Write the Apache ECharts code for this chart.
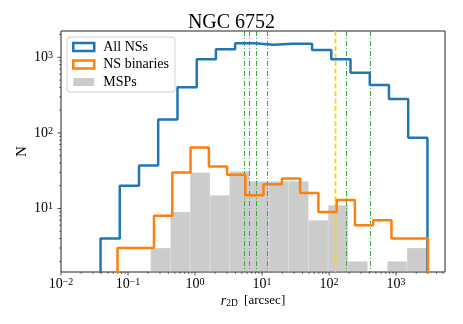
<!DOCTYPE html>
<html>
<head>
<meta charset="utf-8">
<script src="https://cdn.jsdelivr.net/npm/echarts@6/dist/echarts.min.js"></script>
<style>
  html, body { margin: 0; padding: 0; background: #fff; }
  #chart { width: 463px; height: 324px; }
</style>
</head>
<body>
<div id="chart"></div>
<script>
// bin edges (r_2D, arcsec) and counts
const allEdges = [0.0389, 0.0753, 0.146, 0.282, 0.547, 1.06, 2.05, 3.97, 7.69, 14.9, 28.8, 55.8, 108, 209, 405, 783, 1517, 2938]
const allCounts = [4, 20, 37, 151, 401, 941, 1276, 1531, 1470, 1515, 1515, 1250, 941, 625, 430, 280, 86]

const binEdges = [0.0697, 0.131, 0.244, 0.458, 0.857, 1.61, 3.01, 5.63, 10.5, 19.8, 37.0, 69.3, 130, 243, 455, 853, 1596, 2992]
const binCounts = [3, 3, 8, 30, 64, 36, 28, 15, 21, 25, 16, 9, 13, 6, 7, 4, 4]

const mspEdges = [0.218, 0.430, 0.845, 1.67, 3.28, 6.46, 12.7, 25.0, 49.3, 97.0, 191, 376, 740, 1456, 2871]
const mspCounts = [3, 9, 30, 15, 31, 23, 23, 23, 7, 11, 2, 0, 2, 3]

// vertical reference lines
const greenLines = [5.35, 6.33, 8.13, 12.0, 176, 402]
const yellowLines = [123]

const X_MIN = 0.01
const X_MAX = 5370
const Y_MIN = 1.445
const Y_MAX = 2230
const xMajor = [0.01, 0.1, 1, 10, 100, 1000]
const yMajor = [10, 100, 1000]

const SERIF = '"Liberation Serif", "DejaVu Serif", serif'

function stepPoints (edges, counts) {
  const pts = [[edges[0], 1]]
  for (let i = 0; i < counts.length; i++) {
    pts.push([edges[i], counts[i]])
    pts.push([edges[i + 1], counts[i]])
  }
  pts.push([edges[edges.length - 1], 1])
  return pts
}

function minorVals (lo, hi) {
  const out = []
  for (let d = -3; d <= 4; d++) {
    for (let k = 2; k <= 9; k++) {
      const v = k * Math.pow(10, d)
      if (v > lo && v < hi) out.push(v)
    }
  }
  return out
}

function powLabel (value) {
  const e = Math.log10(value)
  if (Math.abs(e - Math.round(e)) > 1e-6) return ''
  const n = Math.round(e)
  return '10{s|' + (n < 0 ? '\u2212' + (-n) : n) + '}'
}

const labelRich = {
  s: { fontSize: 10, fontFamily: SERIF, color: '#000', verticalAlign: 'top', lineHeight: 14 }
}

const chart = echarts.init(document.getElementById('chart'))

const xTicks = xMajor.map(v => [v, Y_MIN, 1]).concat(minorVals(X_MIN, X_MAX).map(v => [v, Y_MIN, 0]))
const yTicks = yMajor.map(v => [X_MIN, v, 1]).concat(minorVals(Y_MIN, Y_MAX).map(v => [X_MIN, v, 0]))

const option = {
  backgroundColor: '#fff',
  animation: false,
  title: {
    text: 'NGC 6752',
    left: 'center',
    top: 8,
    textStyle: { fontFamily: SERIF, fontSize: 20, fontWeight: 'normal', color: '#000' }
  },
  grid: {
    left: 61, right: 18, top: 31, bottom: 52,
    show: true, borderColor: '#222', borderWidth: 1, backgroundColor: 'transparent'
  },
  legend: {
    orient: 'vertical',
    left: 67, top: 37,
    padding: [3, 6, 3, 5],
    itemWidth: 21, itemHeight: 8, itemGap: 3.5,
    backgroundColor: 'rgba(255,255,255,0.85)',
    borderColor: '#d0d0d0', borderWidth: 1, borderRadius: 3,
    textStyle: { fontFamily: SERIF, fontSize: 14, color: '#000', lineHeight: 14, padding: [0, 0, 0, 4] },
    selectedMode: false,
    data: [
      { name: 'All NSs', icon: 'rect', itemStyle: { color: '#fff', borderColor: '#1f77b4', borderWidth: 2.5 } },
      { name: 'NS binaries', icon: 'rect', itemStyle: { color: '#fff', borderColor: '#ff7f0e', borderWidth: 2.5 } },
      { name: 'MSPs', icon: 'rect', itemStyle: { color: 'rgba(128,128,128,0.4)', borderWidth: 0 } }
    ]
  },
  xAxis: {
    type: 'log', logBase: 10, min: X_MIN, max: X_MAX,
    axisLine: { show: false }, axisTick: { show: false }, splitLine: { show: false },
    axisLabel: {
      margin: 5, color: '#000', fontFamily: SERIF, fontSize: 14,
      formatter: powLabel, rich: labelRich
    },
    name: '{i|r}{sub|2D} [arcsec]',
    nameLocation: 'middle', nameGap: 22, nameMoveOverlap: false,
    nameTextStyle: {
      fontFamily: SERIF, fontSize: 13, color: '#000',
      rich: {
        i: { fontFamily: SERIF, fontSize: 14, fontStyle: 'italic', color: '#000' },
        sub: { fontFamily: SERIF, fontSize: 9.5, color: '#000', verticalAlign: 'bottom', padding: [0, 3, 0, 0] }
      }
    }
  },
  yAxis: {
    type: 'log', logBase: 10, min: Y_MIN, max: Y_MAX,
    axisLine: { show: false }, axisTick: { show: false }, splitLine: { show: false },
    axisLabel: {
      margin: 8, color: '#000', fontFamily: SERIF, fontSize: 14,
      formatter: powLabel, rich: labelRich
    },
    name: 'N',
    nameLocation: 'middle', nameGap: 31, nameRotate: 90, nameMoveOverlap: false,
    nameTextStyle: { fontFamily: SERIF, fontSize: 15, color: '#000' }
  },
  series: [
    {
      name: 'All NSs',
      type: 'line',
      data: stepPoints(allEdges, allCounts),
      showSymbol: false, symbol: 'none', clip: true, silent: true,
      lineStyle: { color: '#1f77b4', width: 2.5 },
      itemStyle: { color: '#1f77b4' }
    },
    {
      name: 'NS binaries',
      type: 'line',
      data: stepPoints(binEdges, binCounts),
      showSymbol: false, symbol: 'none', clip: true, silent: true,
      lineStyle: { color: '#ff7f0e', width: 2.5 },
      itemStyle: { color: '#ff7f0e' }
    },
    {
      name: 'MSPs',
      type: 'custom',
      silent: true,
      clip: true,
      itemStyle: { color: 'rgba(128,128,128,0.4)' },
      encode: { x: [0, 1], y: 2 },
      data: mspCounts.map((c, i) => [mspEdges[i], mspEdges[i + 1], c]).filter(d => d[2] > 0),
      renderItem: function (params, api) {
        const p1 = api.coord([api.value(0), api.value(2)])
        const p2 = api.coord([api.value(1), Y_MIN])
        return {
          type: 'rect',
          shape: { x: p1[0], y: p1[1], width: p2[0] - p1[0], height: p2[1] - p1[1] },
          style: { fill: 'rgba(128,128,128,0.4)', stroke: 'rgba(255,255,255,0.35)', lineWidth: 0.6 }
        }
      }
    },
    {
      // vertical reference lines, drawn through the axes
      type: 'custom',
      silent: true,
      clip: true,
      encode: { x: 0 },
      data: greenLines.map(v => [v, 0]).concat(yellowLines.map(v => [v, 1])),
      renderItem: function (params, api) {
        const v = api.value(0)
        const top = api.coord([v, Y_MAX])
        const bot = api.coord([v, Y_MIN])
        const yellow = api.value(1) === 1
        const x = Math.round(top[0]) + 0.5
        return {
          type: 'line',
          shape: { x1: x, y1: top[1], x2: x, y2: bot[1] },
          style: yellow
            ? { stroke: '#ffd700', lineWidth: 1.8, lineDash: [5, 2.5] }
            : { stroke: '#2ca02c', lineWidth: 1, lineDash: [5, 2, 1, 2], opacity: 0.9 }
        }
      }
    },
    {
      type: 'custom', silent: true, clip: false,
      data: xTicks,
      encode: { x: 0, y: 1 },
      renderItem: function (params, api) {
        const p = api.coord([api.value(0), Y_MIN])
        const len = api.value(2) ? 3.5 : 2
        return {
          type: 'line',
          shape: { x1: p[0], y1: p[1], x2: p[0], y2: p[1] + len },
          style: { stroke: '#222', lineWidth: api.value(2) ? 0.8 : 0.6 }
        }
      }
    },
    {
      type: 'custom', silent: true, clip: false,
      data: yTicks,
      encode: { x: 0, y: 1 },
      renderItem: function (params, api) {
        const p = api.coord([X_MIN, api.value(1)])
        const len = api.value(2) ? 3.5 : 2
        return {
          type: 'line',
          shape: { x1: p[0], y1: p[1], x2: p[0] - len, y2: p[1] },
          style: { stroke: '#222', lineWidth: api.value(2) ? 0.8 : 0.6 }
        }
      }
    }
  ]
}

chart.setOption(option)
window.addEventListener('resize', () => chart.resize())
</script>
</body>
</html>
